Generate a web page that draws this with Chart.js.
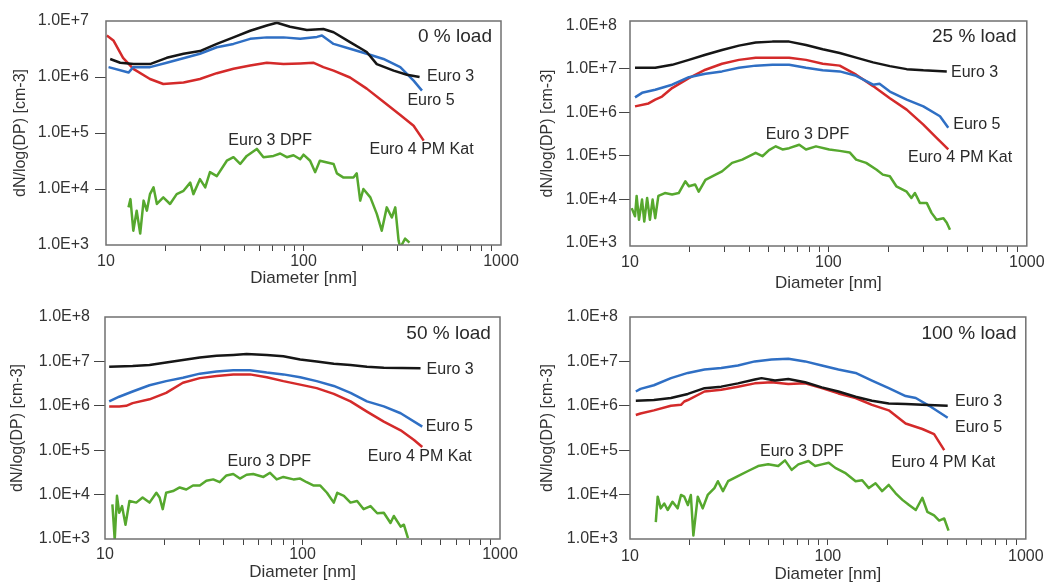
<!DOCTYPE html>
<html>
<head>
<meta charset="utf-8">
<script src="https://cdn.jsdelivr.net/npm/chart.js@4.4.1/dist/chart.umd.min.js"></script>
<style>
  html, body { margin: 0; padding: 0; background: #fff; }
  #wrap { position: relative; width: 1046px; height: 583px; overflow: hidden; }
  #wrap canvas { position: absolute; }
</style>
</head>
<body>
<div id="wrap">
  <canvas id="c0" width="523" height="300" style="left:0;top:0"></canvas>
  <canvas id="c1" width="523" height="300" style="left:523px;top:0"></canvas>
  <canvas id="c2" width="523" height="300" style="left:0;top:290px"></canvas>
  <canvas id="c3" width="523" height="300" style="left:523px;top:290px"></canvas>
</div>
<script>
// [diameter nm, dN/log(DP)]

// 0 % load
const euro3_0 = [[10.5,2.1e6],[11.8,1.8e6],[13.8,1.7e6],[16.7,1.7e6],[20.3,2.2e6],[24.7,2.6e6],[29.9,2.9e6],[36.4,3.9e6],[44.2,5.1e6],[53.7,6.7e6],[65.2,8.3e6],[73.3,9.3e6],[85.5,7.9e6],[104,6.9e6],[126,7.2e6],[142,6.3e6],[172,4.2e6],[209,2.8e6],[235,1.7e6],[286,1.3e6],[334,1.1e6],[387,1.0e6]];
const euro5_0 = [[10.3,1.5e6],[13.0,1.2e6],[13.75,1.5e6],[16.7,1.5e6],[20.3,1.8e6],[29.9,2.6e6],[36.4,3.4e6],[44.2,3.9e6],[53.7,4.8e6],[65.2,5.1e6],[79.2,5.1e6],[96.2,4.8e6],[117,5.2e6],[124,5.5e6],[142,3.9e6],[172,3.2e6],[209,2.6e6],[254,2.1e6],[309,1.5e6],[361,8.6e5],[398,5.7e5]];
const euro4_0 = [[10.1,5.5e6],[10.9,4.5e6],[12.2,2.2e6],[13.75,1.4e6],[16.7,9.2e5],[19.5,7.5e5],[24.7,8e5],[29.9,9.2e5],[36.4,1.17e6],[44.2,1.4e6],[53.7,1.6e6],[65.2,1.8e6],[79.2,1.7e6],[96.2,1.75e6],[112,1.8e6],[126,1.5e6],[142,1.3e6],[172,9.8e5],[209,6.2e5],[254,3.6e5],[309,2.1e5],[361,1.35e5],[406,7.3e4]];
const dpf_0 = [[13.0,4.7e3],[13.3,6.6e3],[13.75,1.8e3],[14.3,4.1e3],[14.9,1.6e3],[15.5,6.2e3],[16.1,4.1e3],[16.7,8.1e3],[17.4,1.07e4],[18.1,5.4e3],[19.5,7.1e3],[21.1,5.4e3],[22.8,8.1e3],[24.7,9.3e3],[26.7,1.3e4],[27.7,8.1e3],[29.9,1.5e4],[31.8,1.07e4],[33.6,2e4],[36.4,1.7e4],[40.9,3.2e4],[44.2,3.7e4],[47.8,2.8e4],[51.6,3.9e4],[58.0,5.2e4],[62.7,3.7e4],[70.5,3.9e4],[76.2,4.3e4],[82.3,3.7e4],[89.0,4e4],[96.2,3.4e4],[100,4.1e4],[108,3.2e4],[114.6,2e4],[121,3.2e4],[142,2.8e4],[147.6,1.9e4],[159.5,1.6e4],[179,1.6e4],[186,1.9e4],[193.7,6.2e3],[201,1e4],[218,7.1e3],[235,3.6e3],[249,1.8e3],[264,4.7e3],[280,3.1e3],[291.5,4.7e3],[303,1.2e3],[309,0.9e3],[327,1.3e3],[344,1.1e3]];

// 25 % load
const euro3_25 = [[10.6,1.05e7],[13.4,1.05e7],[16.3,1.23e7],[19.8,1.6e7],[24.0,2.1e7],[29.1,2.7e7],[35.4,3.4e7],[43.0,4.0e7],[52.2,4.2e7],[63.4,4.2e7],[77.1,3.5e7],[93.6,2.8e7],[114,2.3e7],[138,1.8e7],[168,1.4e7],[204,1.15e7],[248,9.8e6],[301,9.2e6],[395,8.7e6]];
const euro5_25 = [[10.6,2.2e6],[11.5,2.8e6],[13.4,3.3e6],[16.3,4.3e6],[19.8,6.4e6],[24.0,7.7e6],[29.1,8.7e6],[35.4,1.05e7],[43.0,1.18e7],[52.2,1.23e7],[63.4,1.23e7],[77.1,1.05e7],[93.6,9.2e6],[114,8.7e6],[138,6.9e6],[168,4.3e6],[181,4.5e6],[204,3.0e6],[248,1.96e6],[301,1.37e6],[365,8.1e5],[402,4.4e5]];
const euro4_25 = [[10.6,1.37e6],[12.4,1.6e6],[13.4,1.96e6],[14.5,2.3e6],[16.3,3.6e6],[19.8,6.1e6],[24.0,9.5e6],[29.1,1.3e7],[35.4,1.6e7],[43.0,1.8e7],[63.4,1.8e7],[77.1,1.6e7],[93.6,1.3e7],[114,1.18e7],[138,7.3e6],[168,4.0e6],[204,2.1e6],[248,1.15e6],[301,5.2e5],[351,2.6e5],[402,1.4e5]];
const dpf_25 = [[10.2,6.3e3],[10.6,4.1e3],[10.8,1.2e4],[11.1,3.4e3],[11.5,9.9e3],[11.8,3.1e3],[12.2,1.08e4],[12.6,3.4e3],[13.0,9.9e3],[13.4,3.7e3],[13.9,1.2e4],[15.0,1.4e4],[16.3,1.3e4],[17.6,1.4e4],[19.0,2.6e4],[19.8,2e4],[21.3,2.2e4],[22.2,1.5e4],[24.0,2.8e4],[27.0,3.7e4],[29.1,4.4e4],[32.7,6.9e4],[36.8,8.2e4],[43.0,1.17e5],[46.5,9.8e4],[50.2,1.35e5],[54.3,1.66e5],[58.7,1.4e5],[63.4,1.5e5],[71.3,1.8e5],[77.1,1.4e5],[86.6,1.65e5],[101,1.4e5],[114,1.3e5],[128,1.2e5],[138,8.2e4],[155,6.9e4],[175,4.8e4],[188,3.7e4],[204,3.4e4],[220,2e4],[248,1.5e4],[262,1.08e4],[273,1.4e4],[289,8.3e3],[313,8.3e3],[331,4.9e3],[351,3.4e3],[380,3.7e3],[395,2.9e3],[410,2.0e3]];

// 50 % load
const euro3_50 = [[10.5,7.6e6],[13.8,7.9e6],[16.8,8.3e6],[20.4,9.4e6],[24.8,1.07e7],[30.2,1.23e7],[36.7,1.34e7],[44.6,1.4e7],[52.1,1.46e7],[65.9,1.4e7],[80,1.3e7],[97.3,1.1e7],[118,1.0e7],[144,8.9e6],[175,8.3e6],[212,7.6e6],[258,7.2e6],[396,7.0e6]];
const euro5_50 = [[10.5,1.26e6],[11.8,1.6e6],[13.8,2.1e6],[16.8,2.9e6],[20.4,3.6e6],[24.8,4.3e6],[30.2,5.3e6],[36.7,5.9e6],[44.6,6.3e6],[54.2,6.3e6],[65.9,5.6e6],[80,5.1e6],[97.3,4.4e6],[118,3.6e6],[144,2.8e6],[175,1.95e6],[212,1.26e6],[258,9.7e5],[314,6.8e5],[404,3.4e5]];
const euro4_50 = [[10.5,9.7e5],[11.8,9.7e5],[12.8,1.0e6],[13.8,1.15e6],[16.8,1.4e6],[20.4,1.95e6],[24.8,3.3e6],[30.2,4.2e6],[36.7,4.7e6],[44.6,5.1e6],[54.2,5.1e6],[65.9,4.4e6],[80,3.6e6],[97.3,3.0e6],[118,2.5e6],[144,1.86e6],[175,1.26e6],[212,7.4e5],[258,4.4e5],[314,2.8e5],[367,1.7e5],[404,1.18e5]];
const dpf_50 = [[10.9,6.0e3],[11.2,9.6e2],[11.5,9.4e3],[11.8,3.9e3],[12.2,5.5e3],[12.7,2.1e3],[13.3,7.2e3],[14.4,6.6e3],[15.5,8.6e3],[16.8,6.6e3],[18.2,1.1e4],[18.9,8.6e3],[19.6,4.7e3],[20.4,1.1e4],[22.1,1.2e4],[23.9,1.45e4],[25.8,1.3e4],[27.9,1.6e4],[30.2,1.6e4],[32.6,2.05e4],[35.3,2.2e4],[38.1,1.9e4],[41.2,2.7e4],[44.6,2.9e4],[48.2,2.3e4],[52.1,2.8e4],[56.3,2.9e4],[63.4,2.5e4],[68.5,3.1e4],[74.0,2.2e4],[80.0,2.5e4],[90.0,2.2e4],[97.3,2.3e4],[105,1.9e4],[114,1.6e4],[123,1.6e4],[133,1.1e4],[144,6.6e3],[150,1.1e4],[162,9.4e3],[175,6.6e3],[189,7.2e3],[204,4.7e3],[221,5.5e3],[239,3.8e3],[258,3.9e3],[279,2.3e3],[290,3.3e3],[314,1.9e3],[326,2.1e3],[342,1.05e3]];

// 100 % load
const euro3_100 = [[10.7,1.3e6],[13.2,1.35e6],[16.1,1.5e6],[19.6,1.85e6],[23.8,2.5e6],[28.9,2.7e6],[35.1,3.2e6],[42.7,3.9e6],[46.2,4.2e6],[54.0,3.7e6],[63.1,4.0e6],[76.7,3.4e6],[93.2,2.6e6],[113,2.1e6],[138,1.6e6],[167,1.3e6],[203,1.13e6],[247,1.1e6],[300,1.05e6],[403,1.0e6]];
const euro5_100 = [[10.7,2.1e6],[11.3,2.4e6],[13.2,2.9e6],[16.1,4.2e6],[19.6,5.5e6],[23.8,6.6e6],[28.9,7.1e6],[35.1,8.1e6],[42.7,1.0e7],[51.9,1.1e7],[63.1,1.15e7],[76.7,1.0e7],[93.2,8.1e6],[113,6.6e6],[138,5.5e6],[167,3.7e6],[203,2.5e6],[247,1.66e6],[278,1.5e6],[325,1.0e6],[403,5.4e5]];
const euro4_100 = [[10.7,6.2e5],[11.3,6.7e5],[13.2,7.9e5],[16.1,1.0e6],[18.1,1.05e6],[18.8,1.25e6],[19.6,1.35e6],[23.8,2.1e6],[28.9,2.3e6],[35.1,2.7e6],[42.7,3.2e6],[51.9,3.4e6],[63.1,3.1e6],[76.7,3.2e6],[93.2,2.5e6],[113,1.9e6],[138,1.5e6],[167,1.05e6],[203,7.9e5],[247,4e5],[300,3.0e5],[344,2.3e5],[387,1.0e5]];
const dpf_100 = [[13.5,2.4e3],[13.8,9e3],[14.3,4.9e3],[14.9,6.3e3],[15.5,4.5e3],[16.4,6.9e3],[17.4,4.9e3],[18.1,9.8e3],[18.8,9e3],[19.6,5.8e3],[20.3,9.8e3],[20.9,1.2e3],[22.0,9e3],[23.3,4.9e3],[24.7,9.8e3],[26.7,1.4e4],[27.8,2e4],[29.5,1.2e4],[31.3,2e4],[35.1,2.6e4],[39.5,3.4e4],[44.4,4.4e4],[49.9,4.8e4],[56.1,4.4e4],[60.7,5.9e4],[65.6,3.6e4],[70.9,4.8e4],[79.8,5.7e4],[86.2,4.4e4],[93.2,4.8e4],[101,5.2e4],[109,4.0e4],[122,3.1e4],[138,2e4],[149,2.1e4],[161,1.4e4],[174,1.8e4],[188,1.2e4],[203,1.65e4],[220,1.07e4],[238,7.6e3],[257,5.8e3],[278,4.5e3],[300,8.5e3],[318,4.1e3],[344,3.4e3],[365,2.6e3],[387,2.9e3],[407,1.55e3]];

const loadNames = ['0 % load', '25 % load', '50 % load', '100 % load'];
const seriesNames = ['Euro 3', 'Euro 5', 'Euro 4 PM Kat', 'Euro 3 DPF'];
const panelSeries = [
  [euro3_0, euro5_0, euro4_0, dpf_0],
  [euro3_25, euro5_25, euro4_25, dpf_25],
  [euro3_50, euro5_50, euro4_50, dpf_50],
  [euro3_100, euro5_100, euro4_100, dpf_100]
];

// tick values
const xTickValues = [10, 20, 30, 40, 50, 60, 70, 80, 90, 100, 200, 300, 400, 500, 600, 700, 800, 900, 1000];
const xLabelValues = [10, 100, 1000];
const yTicks4 = [1e3, 1e4, 1e5, 1e6, 1e7];
const yTicks5 = [1e3, 1e4, 1e5, 1e6, 1e7, 1e8];
const yMin = [1e3, 850, 1e3, 1e3];
const yMax = [1e7, 1.25e8, 1e8, 1e8];

// where the in-plot texts sit, in data units [nm, value]
const loadLabelAt = [[900, 5.25e6], [887, 5.5e7], [899, 4.17e7], [897, 4.15e7]];
const nameLabelAt = [
  [[422, 1.01e6], [336, 3.8e5], [216, 4.97e4], [67.8, 7.3e4]],
  [[415, 7.98e6], [426, 5.2e5], [252, 8.9e4], [78.5, 3.07e5]],
  [[425, 6.6e6], [421, 3.4e5], [214, 7.0e4], [67.9, 5.4e4]],
  [[439, 1.24e6], [439, 3.3e5], [209, 5.2e4], [73.8, 9.3e4]]
];

const FONT = '"Liberation Sans", Arial, Helvetica, sans-serif';
const colors = ['#161616', '#2f6fc4', '#d42a2a', '#56a82e'];

// chart area per panel [left, right, top, bottom] in canvas px, plus label offsets
const boxes = [
  { id: 'c0', area: [106, 501, 21, 245], yTitle: 21, yPad: 6, xLab: 17, xTitle: 33 },
  { id: 'c1', area: [107, 504, 21, 246], yTitle: 25, yPad: 2, xLab: 17, xTitle: 37 },
  { id: 'c2', area: [105, 500, 27, 249], yTitle: 18, yPad: 4, xLab: 16, xTitle: 33 },
  { id: 'c3', area: [107, 503, 27, 249], yTitle: 25, yPad: 1, xLab: 18, xTitle: 35 }
];

const CW = 523, CH = 300;
const hidden = 'rgba(0,0,0,0)';

function makePanel(p) {
  const box = boxes[p];
  const [aL, aR, aT, aB] = box.area;
  const xAxisH = box.xTitle + 10.2;
  const yTicks = p === 0 ? yTicks4 : yTicks5;

  const notesPlugin = {
    id: 'notes' + p,
    afterDatasetsDraw(chart) {
      const { ctx, chartArea, scales } = chart;
      ctx.save();
      ctx.strokeStyle = '#707070';
      ctx.lineWidth = 1.5;
      ctx.strokeRect(chartArea.left, chartArea.top, chartArea.right - chartArea.left, chartArea.bottom - chartArea.top);

      ctx.fillStyle = '#2a2a2a';
      ctx.textBaseline = 'middle';
      ctx.font = '19px ' + FONT;
      ctx.textAlign = 'right';
      ctx.fillText(loadNames[p], scales.x.getPixelForValue(loadLabelAt[p][0]), scales.y.getPixelForValue(loadLabelAt[p][1]));

      ctx.font = '16px ' + FONT;
      nameLabelAt[p].forEach((pos, i) => {
        ctx.textAlign = i === 3 ? 'center' : 'left';
        ctx.fillText(seriesNames[i], scales.x.getPixelForValue(pos[0]), scales.y.getPixelForValue(pos[1]));
      });
      ctx.restore();
    }
  };

  return new Chart(document.getElementById(box.id), {
    type: 'line',
    data: {
      datasets: panelSeries[p].map((pts, i) => ({
        label: seriesNames[i],
        data: pts.map(([x, y]) => ({ x: x, y: y })),
        borderColor: colors[i],
        borderWidth: 2.5,
        borderJoinStyle: 'round',
        pointRadius: 0,
        tension: 0,
        fill: false
      }))
    },
    options: {
      responsive: false,
      animation: false,
      devicePixelRatio: 1,
      layout: { padding: { left: 0, top: aT, right: CW - aR, bottom: CH - aB - xAxisH } },
      plugins: { legend: { display: false }, tooltip: { enabled: false } },
      scales: {
        x: {
          type: 'logarithmic',
          min: 10,
          max: 1000,
          afterBuildTicks: s => { s.ticks = xTickValues.map(v => ({ value: v })); },
          afterFit: s => { s.height = xAxisH; },
          border: { display: false },
          grid: {
            drawOnChartArea: false,
            tickLength: 6,
            tickColor: c => (c.tick && (c.tick.value === 10 || c.tick.value === 1000)) ? hidden : '#444'
          },
          ticks: {
            autoSkip: false,
            maxRotation: 0,
            padding: box.xLab - 6 - 9.6,
            color: '#333',
            font: { family: FONT, size: 16 },
            callback: v => xLabelValues.includes(v) ? String(v) : ''
          },
          title: {
            display: true,
            text: 'Diameter [nm]',
            color: '#333',
            font: { family: FONT, size: 17 },
            padding: { top: 0, bottom: 0 }
          }
        },
        y: {
          type: 'logarithmic',
          min: yMin[p],
          max: yMax[p],
          afterBuildTicks: s => { s.ticks = yTicks.map(v => ({ value: v })); },
          afterFit: s => { s.width = aL; },
          border: { display: false },
          grid: {
            drawOnChartArea: false,
            tickLength: 11,
            tickColor: c => (c.index === 0 || c.index === yTicks.length - 1) ? hidden : '#444'
          },
          ticks: {
            autoSkip: false,
            padding: box.yPad,
            color: '#333',
            font: { family: FONT, size: 16 },
            callback: v => '1.0E+' + Math.round(Math.log10(v))
          },
          title: {
            display: true,
            text: 'dN/log(DP) [cm-3]',
            color: '#333',
            font: { family: FONT, size: 16 },
            padding: { top: box.yTitle - 9.6, bottom: 0 }
          }
        }
      }
    },
    plugins: [notesPlugin]
  });
}

[0, 1, 2, 3].forEach(makePanel);
</script>
</body>
</html>
